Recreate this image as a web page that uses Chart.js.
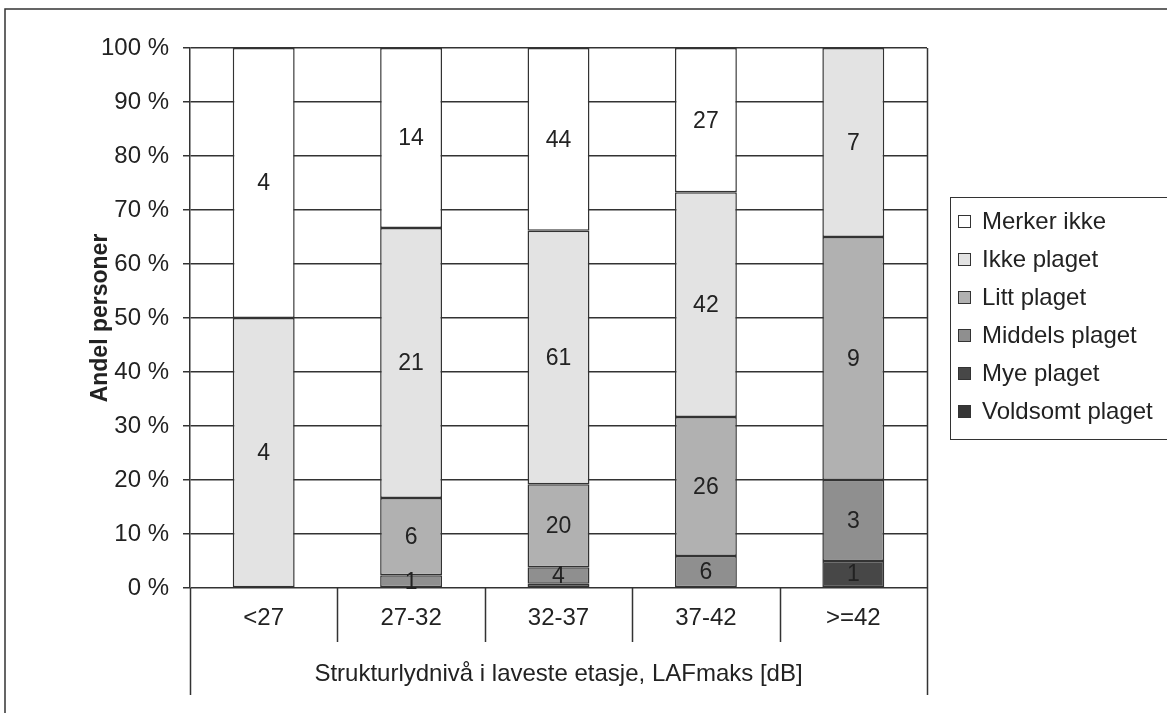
<!DOCTYPE html>
<html>
<head>
<meta charset="utf-8">
<script src="https://cdn.jsdelivr.net/npm/chart.js@4.4.1/dist/chart.umd.min.js"></script>
<style>
  body { margin: 0; background: #fff; }
  #wrap { position: relative; width: 1167px; height: 713px; overflow: hidden; }
  #legend {
    position: absolute; left: 950px; top: 197px; width: 240px; height: 243px;
    border: 1px solid #333; box-sizing: border-box; padding-top: 4px;
    font-family: "Liberation Sans", Arial, sans-serif; font-size: 24px; color: #222;
  }
  #legend .item { height: 38px; line-height: 38px; white-space: nowrap; }
  #legend .sw {
    display: inline-block; width: 11px; height: 11px; border: 1px solid #333;
    margin: 0 11px 0 7px; vertical-align: 1px;
  }
</style>
</head>
<body>
<div id="wrap">
  <canvas id="chart" width="1167" height="713"></canvas>
  <div id="legend"></div>
</div>
<script>
const categories = ['<27', '27-32', '32-37', '37-42', '>=42'];
const seriesNames = ['Voldsomt plaget', 'Mye plaget', 'Middels plaget', 'Litt plaget', 'Ikke plaget', 'Merker ikke'];
const voldsomt = [0, 0, 0, 0, 0];
const mye = [0, 0, 1, 0, 1];
const middels = [0, 1, 4, 6, 3];
const litt = [0, 6, 20, 26, 9];
const ikke = [4, 21, 61, 42, 7];
const merker = [4, 14, 44, 27, 0];
const yTicks = [0, 10, 20, 30, 40, 50, 60, 70, 80, 90, 100];
const colors = ['#363636', '#474747', '#8f8f8f', '#b1b1b1', '#e3e3e3', '#ffffff'];

const counts = [voldsomt, mye, middels, litt, ikke, merker];
const totals = categories.map((c, i) => counts.reduce((s, arr) => s + arr[i], 0));

const datasets = counts.map((arr, k) => ({
  label: seriesNames[k],
  counts: arr,
  data: arr.map((v, i) => v ? v / totals[i] * 100 : null),
  backgroundColor: colors[k],
  borderColor: '#333',
  borderWidth: 1.5,
  borderSkipped: false,
  barPercentage: 0.42,
  categoryPercentage: 1
}));

const FONT = '"Liberation Sans", Arial, sans-serif';

// count labels in the middle of each segment, plus the table-like category axis lines
const extras = {
  id: 'extras',
  afterDatasetsDraw(chart) {
    const ctx = chart.ctx;
    ctx.save();
    ctx.font = '23px ' + FONT;
    ctx.fillStyle = '#222';
    ctx.textAlign = 'center';
    ctx.textBaseline = 'middle';
    chart.data.datasets.forEach((ds, k) => {
      chart.getDatasetMeta(k).data.forEach((bar, i) => {
        const v = ds.counts[i];
        if (!v || Math.abs(bar.base - bar.y) < 6) return;
        ctx.fillText(String(v), bar.x, (bar.y + bar.base) / 2 + 1);
      });
    });
    ctx.restore();
  },
  afterDraw(chart) {
    const ctx = chart.ctx;
    const a = chart.chartArea;
    const x = chart.scales.x;
    const step = x.getPixelForValue(1) - x.getPixelForValue(0);
    ctx.save();
    ctx.strokeStyle = '#333';
    ctx.lineWidth = 1.5;
    ctx.beginPath();
    for (let i = 1; i < categories.length; i++) {
      const px = Math.round(x.getPixelForValue(i) - step / 2) + 0.5;
      ctx.moveTo(px, a.bottom);
      ctx.lineTo(px, a.bottom + 54);
    }
    ctx.moveTo(a.left + 0.5, a.bottom);
    ctx.lineTo(a.left + 0.5, a.bottom + 107);
    ctx.moveTo(a.right + 0.5, a.top);
    ctx.lineTo(a.right + 0.5, a.bottom + 107);
    // outer frame
    ctx.moveTo(5, 713);
    ctx.lineTo(5, 9);
    ctx.lineTo(1167, 9);
    ctx.stroke();
    ctx.restore();
  }
};

new Chart(document.getElementById('chart'), {
  type: 'bar',
  data: { labels: categories, datasets: datasets },
  options: {
    responsive: false,
    animation: false,
    layout: { padding: { top: 48, right: 240, bottom: 0, left: 0 } },
    plugins: { legend: { display: false }, tooltip: { enabled: false } },
    scales: {
      x: {
        stacked: true,
        grid: { display: false, drawTicks: false },
        border: { display: false },
        ticks: { padding: 16, color: '#222', font: { family: FONT, size: 24 } },
        title: {
          display: true,
          text: 'Strukturlydnivå i laveste etasje, LAFmaks [dB]',
          color: '#222',
          font: { family: FONT, size: 24 },
          padding: { top: 0, bottom: 24 }
        },
        afterFit(scale) { scale.height = 125; }
      },
      y: {
        stacked: true,
        min: 0,
        max: 100,
        afterBuildTicks(scale) { scale.ticks = yTicks.map(v => ({ value: v })); },
        grid: { color: '#333', lineWidth: 1.5, tickLength: 7 },
        border: { display: true, color: '#333', width: 1.5 },
        ticks: {
          padding: 14,
          color: '#222',
          font: { family: FONT, size: 24 },
          callback: v => v + ' %'
        },
        title: {
          display: true,
          text: 'Andel personer',
          color: '#222',
          font: { family: FONT, size: 23, weight: 'bold' },
          padding: { top: 87, bottom: 0 }
        },
        afterFit(scale) { scale.width = 190; }
      }
    }
  },
  plugins: [extras]
});

// legend box, top entry first
const legend = document.getElementById('legend');
for (let k = seriesNames.length - 1; k >= 0; k--) {
  const row = document.createElement('div');
  row.className = 'item';
  const sw = document.createElement('span');
  sw.className = 'sw';
  sw.style.background = colors[k];
  row.appendChild(sw);
  row.appendChild(document.createTextNode(seriesNames[k]));
  legend.appendChild(row);
}
</script>
</body>
</html>
